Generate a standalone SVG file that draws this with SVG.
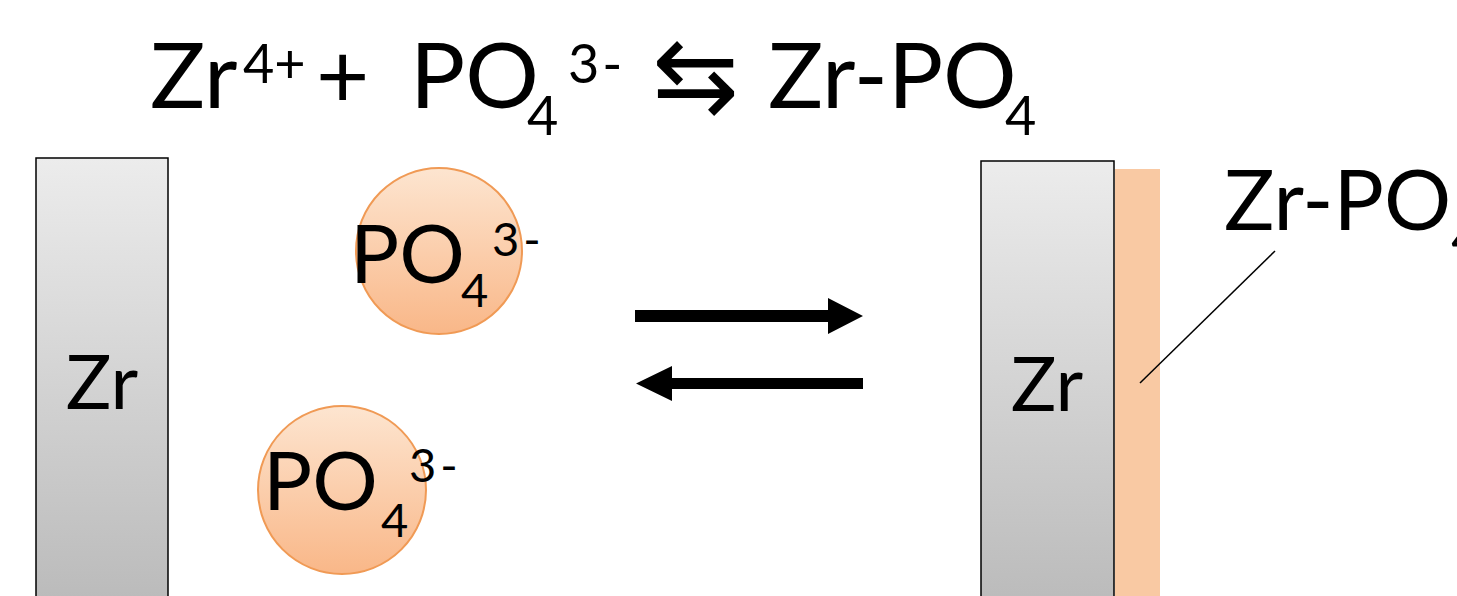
<svg xmlns="http://www.w3.org/2000/svg" width="1457" height="596" viewBox="0 0 1457 596">
<style>
text{font-family:Lato,"Open Sans","Liberation Sans",sans-serif;fill:#000}
.big{font-size:92px}
.sm{font-size:54px}
.lbl{font-size:76px}
.ion{font-size:82px}
.ionsm{font-size:47px}
.bar{fill:url(#barGrad);stroke:#000;stroke-width:1.5}
.ball{fill:url(#ballGrad);stroke:#f09a55;stroke-width:2}
</style>
<defs>
<linearGradient id="barGrad" x1="0" y1="0" x2="0" y2="1">
<stop offset="0" stop-color="#ececec"/>
<stop offset="1" stop-color="#bababa"/>
</linearGradient>
<linearGradient id="ballGrad" x1="0" y1="0" x2="0" y2="1">
<stop offset="0" stop-color="#fde5d0"/>
<stop offset="1" stop-color="#f9b788"/>
</linearGradient>
</defs>
<g id="title">
<text class="big" x="150" y="108">Zr</text>
<text class="sm" x="243" y="83">4+</text>
<text class="big" x="316" y="108">+</text>
<text class="big" x="410" y="108">PO</text>
<text class="sm" x="527" y="135">4</text>
<text class="sm" x="568" y="83">3<tspan dx="3">-</tspan></text>
<text style="font-family:'DejaVu Sans',sans-serif;font-size:104px" x="652" y="111">⇆</text>
<text class="big" x="768" y="108">Zr-PO</text>
<text class="sm" x="1005" y="135">4</text>
</g>
<g id="zr-left">
<rect class="bar" x="36" y="158" width="132" height="450"/>
<text class="lbl" x="102" y="409" text-anchor="middle">Zr</text>
</g>
<g id="po4-top">
<circle class="ball" cx="439" cy="251" r="83"/>
<text class="ion" x="350" y="283">PO</text>
<text class="ionsm" x="461" y="307">4</text>
<text class="ionsm" x="492" y="256">3<tspan dx="4">-</tspan></text>
</g>
<g id="po4-bottom">
<circle class="ball" cx="342" cy="490" r="84"/>
<text class="ion" x="263" y="510">PO</text>
<text class="ionsm" x="381" y="537">4</text>
<text class="ionsm" x="409" y="482">3<tspan dx="4">-</tspan></text>
</g>
<g id="zr-right">
<rect x="1115" y="169" width="45" height="440" fill="#f9c9a3"/>
<rect class="bar" x="981" y="161" width="133" height="450"/>
<text class="lbl" x="1047" y="411" text-anchor="middle">Zr</text>
</g>
<g id="label-zrpo4">
<text style="font-size:84px" x="1224" y="230">Zr-PO<tspan font-size="50" dy="26">4</tspan></text>
</g>
<g id="connectors">
<polygon points="635,310 828,310 828,298 863,316 828,334 828,322 635,322" fill="#000"/>
<polygon points="863,378 672,378 672,366 636,383.5 672,401 672,389 863,389" fill="#000"/>
<line x1="1275" y1="251" x2="1140" y2="383" stroke="#000" stroke-width="1.5"/>
</g>
</svg>
